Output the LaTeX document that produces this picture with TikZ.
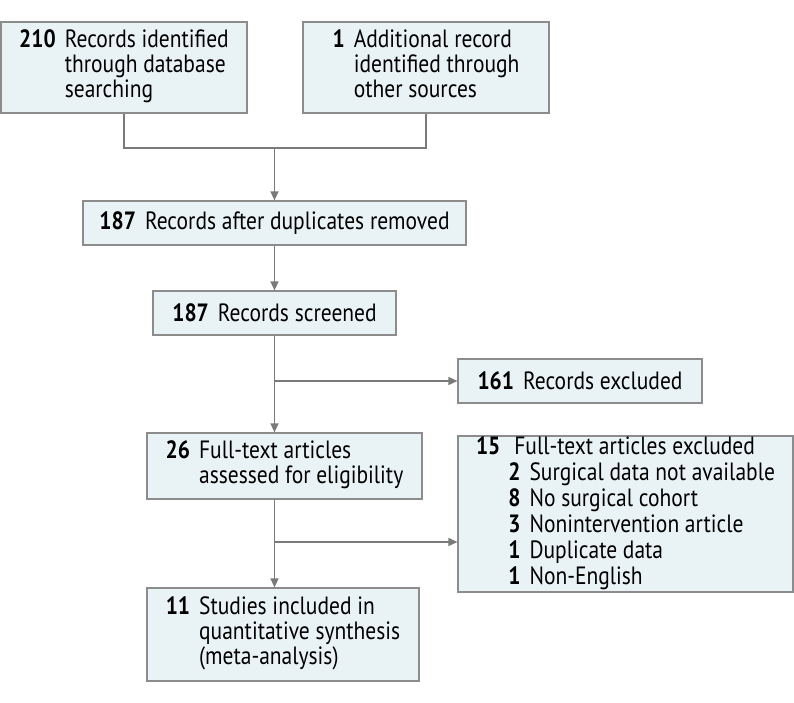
\documentclass[tikz,border=0pt]{standalone}
\usepackage{fontspec}
\setmainfont{PT Sans}[FakeStretch=0.86]
\usetikzlibrary{arrows.meta}
\definecolor{boxfill}{HTML}{E9F3F5}
\definecolor{boxline}{HTML}{8C8C8C}
\definecolor{flowgray}{HTML}{7A7A7A}
\tikzset{
	flowbox/.style={draw=boxline, fill=boxfill, line width=1.2pt, inner sep=0pt,
		font=\fontsize{25}{24.5}\selectfont},
	flowline/.style={draw=flowgray, line width=1.3pt},
	flowarrow/.style={flowline, -{Triangle[width=8pt,length=9pt]}},
}
\newcommand{\cnt}[1]{\textbf{#1}}
\begin{document}
\begin{tikzpicture}[x=1pt, y=-1pt]
		\useasboundingbox (0,0) rectangle (794,703);
		% identification
		\node[flowbox, minimum width=246pt, minimum height=91pt] (ident) at (124,67.5)
			{\begin{tabular}{@{}r@{\hspace{9pt}}l@{}}\cnt{210} & Records identified\\ & through database\\ & searching\end{tabular}};
		\node[flowbox, minimum width=246pt, minimum height=91pt] (other) at (426,67.5)
			{\begin{tabular}{@{}r@{\hspace{9pt}}l@{}}\cnt{1} & Additional record\\ & identified through\\ & other sources\end{tabular}};
		\coordinate (mrg) at (274.5,148);
		\draw[flowline] (ident.south) |- (mrg) -| (other.south);
		% screening
		\node[flowbox, minimum width=383pt, minimum height=44pt] (dedup) at (274.5,223)
			{\cnt{187}\hspace{9pt}Records after duplicates removed};
		\draw[flowarrow] (mrg) -- (dedup.north);
		\node[flowbox, minimum width=243pt, minimum height=44pt] (screen) at (274.5,313)
			{\cnt{187}\hspace{9pt}Records screened};
		\draw[flowarrow] (dedup.south) -- (screen.north);
		\node[flowbox, minimum width=244pt, minimum height=44pt] (excl) at (580,381)
			{\cnt{161}\hspace{9pt}Records excluded};
		% eligibility
		\node[flowbox, minimum width=275pt, minimum height=66pt] (full) at (284.5,466)
			{\begin{tabular}{@{}r@{\hspace{9pt}}l@{}}\cnt{26} & Full-text articles\\ & assessed for eligibility\end{tabular}};
		\coordinate (br1) at (screen.south |- excl.west);
		\draw[flowarrow] (screen.south) -- (screen.south |- full.north);
		\draw[flowarrow] (br1) -- (excl.west);
		\node[flowbox, minimum width=335pt, minimum height=122pt, font=\fontsize{25}{26}\selectfont] (fullx) at (625.5,514)
			{\begin{tabular}{@{}r@{\hspace{8pt}}r@{\hspace{9pt}}l@{}}\cnt{15} & \multicolumn{2}{l@{}}{Full-text articles excluded}\\
				& \cnt{2} & Surgical data not available\\
				& \cnt{8} & No surgical cohort\\
				& \cnt{3} & Nonintervention article\\
				& \cnt{1} & Duplicate data\\
				& \cnt{1} & Non-English\end{tabular}};
		% included
		\node[flowbox, minimum width=272pt, minimum height=93pt] (incl) at (283,634.5)
			{\begin{tabular}{@{}r@{\hspace{9pt}}l@{}}\cnt{11} & Studies included in\\ & quantitative synthesis\\ & (meta-analysis)\end{tabular}};
		\coordinate (br2) at (274.5,542);
		\draw[flowarrow] (screen.south |- full.south) -- (screen.south |- incl.north);
		\draw[flowarrow] (br2) -- (fullx.west |- br2);
	\end{tikzpicture}
\end{document}
